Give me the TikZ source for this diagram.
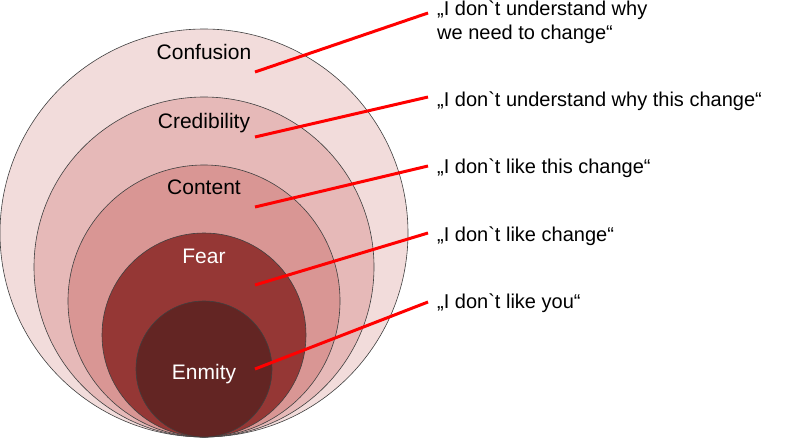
\documentclass[tikz,border=0pt]{standalone}
\usepackage{fontspec}
\newfontfamily\arial{Liberation Sans}
\definecolor{ringA}{HTML}{F2DCDB}
\definecolor{ringB}{HTML}{E6B9B8}
\definecolor{ringC}{HTML}{D99694}
\definecolor{ringD}{HTML}{953735}
\definecolor{ringE}{HTML}{632523}
\begin{document}
\begin{tikzpicture}[x=1pt,y=-1pt,
  ring/.style={circle, draw=black!75, line width=0.6pt, inner sep=0pt, minimum size=#1},
  lbl/.style={font=\arial\fontsize{21}{25}\selectfont, anchor=base, inner sep=0pt},
  quote/.style={font=\arial\fontsize{20}{23}\selectfont, anchor=base west, inner sep=0pt},
  link/.style={draw=red, line width=3pt}]
\useasboundingbox (0,0) rectangle (800,439);
% rings, all tangent at the bottom
\node[ring=408pt, fill=ringA] (confusion) at (204,233) {};
\node[ring=340pt, fill=ringB] (credibility) at (204,267) {};
\node[ring=272pt, fill=ringC] (content) at (204,301) {};
\node[ring=204pt, fill=ringD] (fear) at (204,335) {};
\node[ring=136pt, fill=ringE] (enmity) at (204,369) {};
% ring labels
\node[lbl] (lconf) at (204,59) {Confusion};
\node[lbl] (lcred) at (204,128) {Credibility};
\node[lbl] (lcont) at (204,194) {Content};
\node[lbl, text=white] (lfear) at (204,263) {Fear};
\node[lbl, text=white] (lenm) at (204,379) {Enmity};
% quotes
\node[quote] (q1) at (437,16) {„I don`t understand why};
\node[quote] (q1b) at (437,39) {we need to change“};
\node[quote] (q2) at (437,106) {„I don`t understand why this change“};
\node[quote] (q3) at (437,173) {„I don`t like this change“};
\node[quote] (q4) at (437,241) {„I don`t like change“};
\node[quote] (q5) at (437,308) {„I don`t like you“};
% connector end points
\coordinate (s1) at (255,72);
\coordinate (s2) at (255,137);
\coordinate (s3) at (255,207);
\coordinate (s4) at (255,285);
\coordinate (s5) at (255,369);
\coordinate (e1) at (428,13);
\coordinate (e2) at (428,97);
\coordinate (e3) at (428,166);
\coordinate (e4) at (428,233);
\coordinate (e5) at (428,302);
\draw[link] (s1) -- (e1);
\draw[link] (s2) -- (e2);
\draw[link] (s3) -- (e3);
\draw[link] (s4) -- (e4);
\draw[link] (s5) -- (e5);
\end{tikzpicture}
\end{document}
